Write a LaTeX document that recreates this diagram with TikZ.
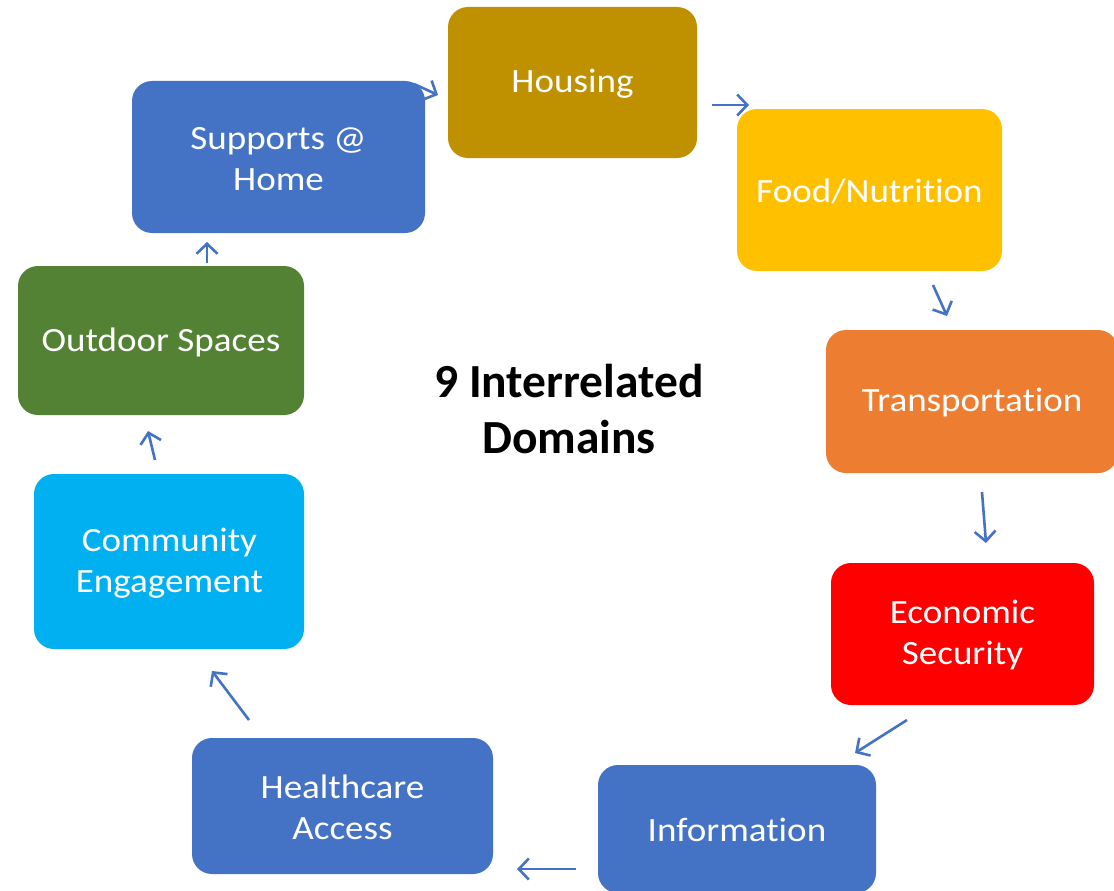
\documentclass[tikz,border=0pt]{standalone}
\usepackage{fontspec}
\setmainfont{Carlito}[Ligatures={NoCommon}]
\newfontfamily\boxfont{Carlito}[FakeStretch=1.09,Ligatures={NoCommon}]
\usetikzlibrary{arrows.meta}
\definecolor{cgold}{HTML}{BF9000}
\definecolor{cyellow}{HTML}{FFC000}
\definecolor{corange}{HTML}{ED7D31}
\definecolor{cred}{HTML}{FF0000}
\definecolor{cblue}{HTML}{4472C4}
\definecolor{ccyan}{HTML}{00B0F0}
\definecolor{cgreen}{HTML}{548235}
\tikzset{
  dombox/.style={inner sep=0pt, align=center, text=white, yshift=-1.5pt,
    font=\boxfont\fontsize{34}{41}\selectfont},
  flow/.style={draw=cblue, line width=2.6pt, -{Straight Barb[length=10pt,width=21pt,line width=2.6pt]}},
}
\begin{document}
\begin{tikzpicture}[x=1pt,y=-1pt]
\useasboundingbox (0,0) rectangle (1114,891);
\clip (0,0) rectangle (1114,891);
\fill[white] (0,0) rectangle (1114,891);
% boxes
\fill[cgold,rounded corners=20pt] (448,7) rectangle (697,158);
\node[dombox] (housing) at (572.5,82.5) {Housing};
\fill[cyellow,rounded corners=20pt] (737,109) rectangle (1002,271);
\node[dombox] (food) at (869.5,190) {Food/Nutrition};
\fill[corange,rounded corners=20pt] (826,330) rectangle (1118,473);
\node[dombox] (transp) at (972,401.5) {Transportation};
\fill[cred,rounded corners=20pt] (831,563) rectangle (1094,705);
\node[dombox] (econ) at (962.5,634) {Economic\\Security};
\fill[cblue,rounded corners=20pt] (598,765) rectangle (876,893);
\node[dombox] (info) at (737,828) {Information};
\fill[cblue,rounded corners=20pt] (192,738) rectangle (493,874);
\node[dombox] (health) at (342.5,806) {Healthcare\\Access};
\fill[ccyan,rounded corners=20pt] (34,474) rectangle (304,649);
\node[dombox] (comm) at (169.5,561.5) {Community\\Engagement};
\fill[cgreen,rounded corners=20pt] (18,266) rectangle (304,415);
\node[dombox] (outdoor) at (161,340.5) {Outdoor Spaces};
\fill[cblue,rounded corners=20pt] (132,81) rectangle (425,233);
\node[dombox] (supports) at (278.5,157.5) {Supports @\\Home};
% centre title
\node[font=\bfseries\fontsize{47.5}{56}\selectfont, align=center] (title) at (569,409) {9 Interrelated\\Domains};
% arrow end points
\coordinate (a1s) at (414,84); \coordinate (a1e) at (438,95);
\coordinate (a2s) at (712,105); \coordinate (a2e) at (749,105);
\coordinate (a3s) at (933,285); \coordinate (a3e) at (947,316);
\coordinate (a4s) at (982,492); \coordinate (a4e) at (986,543);
\coordinate (a5s) at (907,720); \coordinate (a5e) at (855,753);
\coordinate (a6s) at (576,869); \coordinate (a6e) at (517,869);
\coordinate (a7s) at (249,720); \coordinate (a7e) at (212,671);
\coordinate (a8s) at (155,460); \coordinate (a8e) at (148,431);
\coordinate (a9s) at (207,263); \coordinate (a9e) at (207,242);
\draw[flow] (a1s) -- (a1e);
\draw[flow] (a2s) -- (a2e);
\draw[flow] (a3s) -- (a3e);
\draw[flow] (a4s) -- (a4e);
\draw[flow] (a5s) -- (a5e);
\draw[flow] (a6s) -- (a6e);
\draw[flow] (a7s) -- (a7e);
\draw[flow] (a8s) -- (a8e);
\draw[flow] (a9s) -- (a9e);
\end{tikzpicture}
\end{document}
